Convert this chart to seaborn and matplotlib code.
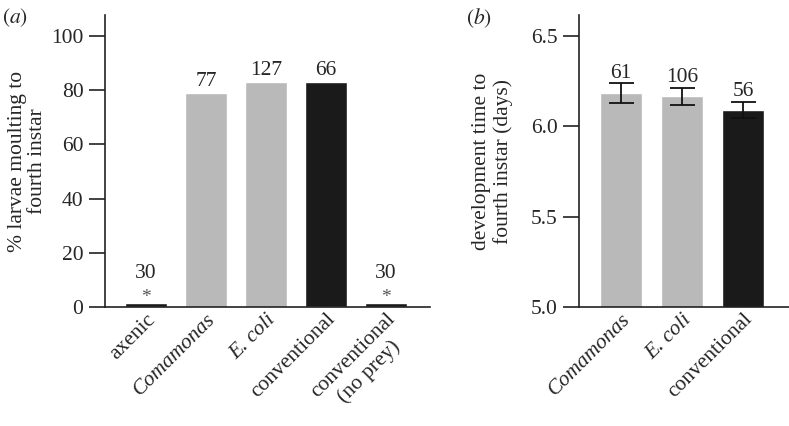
import matplotlib
matplotlib.use("Agg")
import matplotlib.pyplot as plt
import numpy as np
import pandas as pd
import seaborn as sns

# ── data ──────────────────────────────────────────────────────────────
a_groups = ["axenic", "Comamonas", "E. coli", "conventional", "conventional\n(no prey)"]
a_pct = [1.5, 79.0, 83.0, 83.0, 1.5]
a_n = ["30", "77", "127", "66", "30"]
a_star = [True, False, False, False, True]
a_italic = [False, True, True, False, False]

b_groups = ["Comamonas", "E. coli", "conventional"]
b_days = [6.183, 6.166, 6.09]
b_err = [0.054, 0.047, 0.046]
b_n = ["61", "106", "56"]
b_italic = [True, True, False]

GREY = "#b9b9b9"
BLACK = "#1a1a1a"
a_colors = [BLACK, GREY, GREY, BLACK, BLACK]
b_colors = [GREY, GREY, BLACK]

sns.set_style("ticks")
plt.rcParams["font.family"] = ["Liberation Serif", "DejaVu Serif"]
plt.rcParams["mathtext.fontset"] = "stix"
FS = 15.5

fig = plt.figure(figsize=(7.89, 4.26), dpi=100)
ax1 = fig.add_axes([0.133, 0.279, 0.412, 0.686])
ax2 = fig.add_axes([0.734, 0.279, 0.266, 0.686])


def style_axis(ax):
    sns.despine(ax=ax)
    for s in ("left", "bottom"):
        ax.spines[s].set_linewidth(1.2)
        ax.spines[s].set_color("#222222")
    ax.tick_params(axis="y", length=11.5, width=1.2, labelsize=FS, pad=4, color="#222222")
    ax.tick_params(axis="x", length=0, labelsize=FS, pad=2)
    ax.set_xlabel("")


def rotate_labels(ax, italics):
    for lab, it in zip(ax.get_xticklabels(), italics):
        lab.set_rotation(45)
        lab.set_ha("right")
        lab.set_va("top")
        lab.set_rotation_mode("anchor")
        lab.set_multialignment("center")
        if it:
            lab.set_style("italic")


# ── panel (a) ─────────────────────────────────────────────────────────
df_a = pd.DataFrame({"group": a_groups, "pct": a_pct})
sns.barplot(data=df_a, x="group", y="pct", hue="group", palette=a_colors,
            width=0.7, saturation=1, legend=False, ax=ax1)
ax1.set_xlim(-0.68, 4.73)
ax1.set_ylim(0, 107.7)
ax1.set_yticks([0, 20, 40, 60, 80, 100])
ax1.set_ylabel("% larvae moulting to\nfourth instar", fontsize=FS, labelpad=3,
               linespacing=1.05)
style_axis(ax1)
rotate_labels(ax1, a_italic)

for i, (v, n, st) in enumerate(zip(a_pct, a_n, a_star)):
    if st:
        ax1.text(i, v + 0.3, "*", ha="center", va="baseline", fontsize=FS - 1.5, color="#555555")
        ax1.text(i, v + 7.5, n, ha="center", va="bottom", fontsize=FS)
    else:
        ax1.text(i, v + 0.8, n, ha="center", va="bottom", fontsize=FS)

# ── panel (b) ─────────────────────────────────────────────────────────
df_b = pd.DataFrame({"group": b_groups, "days": b_days})
sns.barplot(data=df_b, x="group", y="days", hue="group", palette=b_colors,
            width=0.69, saturation=1, legend=False, ax=ax2)
ax2.errorbar(range(len(b_groups)), b_days, yerr=b_err, fmt="none",
             ecolor="#111111", elinewidth=1.3, capsize=9, capthick=1.3)
ax2.set_xlim(-0.69, 2.75)
ax2.set_ylim(5.0, 6.616)
ax2.set_yticks([5.0, 5.5, 6.0, 6.5])
ax2.set_ylabel("development time to\nfourth instar (days)", fontsize=FS, labelpad=13,
               linespacing=1.12)
style_axis(ax2)
rotate_labels(ax2, b_italic)

for i, (v, e, n) in enumerate(zip(b_days, b_err, b_n)):
    ax2.text(i, v + e + 0.002, n, ha="center", va="bottom", fontsize=FS)

fig.text(0.003, 0.985, "$(\\mathit{a})$", fontsize=FS, va="top", ha="left")
fig.text(0.59, 0.985, "$(\\mathit{b})$", fontsize=FS, va="top", ha="left")

fig.savefig("out.png", dpi=100)
